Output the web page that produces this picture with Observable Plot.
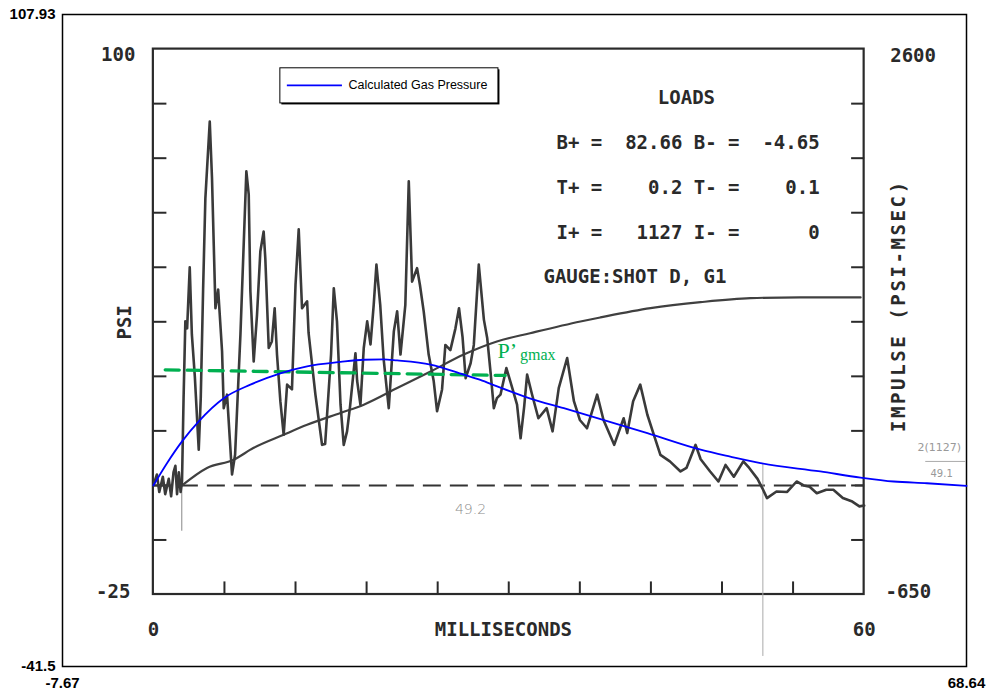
<!DOCTYPE html>
<html>
<head>
<meta charset="utf-8">
<script src="https://cdn.jsdelivr.net/npm/d3@7"></script>
<script src="https://cdn.jsdelivr.net/npm/@observablehq/plot@0.6"></script>
<style>
  html, body { margin: 0; padding: 0; background: #fff; }
  #chart { width: 987px; height: 698px; }
</style>
</head>
<body>
<div id="chart"></div>
<script>
// ---------- outer frame (overlay coordinates) ----------
const outerXTicks = [-7.67, 68.64];
const outerYTicks = [-41.5, 107.93];

// ---------- scanned gauge record: axes ----------
const msRange = [0, 60];
const psiRange = [-25, 100];
const impulseRange = [-650, 2600];
const msTicks = [6, 12, 18, 24, 30, 36, 42, 48, 54];
const psiTicks = [-12.5, 0, 12.5, 25, 37.5, 50, 62.5, 75, 87.5];

// ---------- measured pressure trace [ms, psi] ----------
const pressureTrace = [
  [0, 0], [0.3, 2.5], [0.5, -1.5], [0.8, 2], [1.0, -2], [1.3, 1.5], [1.5, -2.5], [1.7, 3],
  [1.86, 4.5], [2.0, -2], [2.15, 3], [2.3, -1.5], [2.42, 1],
  [2.55, 20], [2.7, 37.6], [2.85, 36], [3.07, 50], [3.25, 34.6], [3.5, 25], [3.83, 8.2],
  [4.0, 20], [4.2, 45], [4.39, 65.8], [4.76, 83.4], [4.95, 70.4], [5.1, 55], [5.24, 40.6],
  [5.47, 44.9], [5.8, 30.7], [5.94, 17.7], [6.22, 20.8], [6.64, 2.5], [6.9, 7.1], [7.35, 34.6],
  [7.85, 72], [8.05, 66.7], [8.19, 44.5], [8.47, 28.4], [8.75, 39.1], [9.03, 53.6], [9.31, 58.2],
  [9.45, 52], [9.74, 31.5], [10.0, 33], [10.24, 40.6], [10.44, 29.9], [10.72, 19.3], [11.0, 11.6],
  [11.29, 23.1], [11.7, 22], [12.0, 46], [12.27, 58.7], [12.55, 40.6], [12.98, 42.2], [13.1, 35],
  [13.68, 20.8], [14.24, 9.3], [14.5, 9.5], [15.0, 30], [15.23, 45.2], [15.5, 37.6], [15.8, 18.5],
  [16.07, 9.3], [16.35, 12.4], [16.6, 18], [17.06, 30.3], [17.2, 24], [17.48, 18.5], [17.76, 31.5],
  [18.05, 37.6], [18.33, 32.3], [18.6, 41.4], [18.83, 50.6], [19.15, 41.4], [19.43, 29.2],
  [19.87, 17.7], [20.3, 35.3], [20.58, 39.9], [20.86, 30], [21.27, 41.4], [21.56, 69.7],
  [21.84, 46.7], [22.26, 49.8], [22.5, 46], [22.82, 39.9], [23.24, 30], [23.66, 24], [23.95, 17],
  [24.37, 22], [24.65, 32.2], [25.07, 31], [25.5, 36], [25.8, 40.6], [26.1, 34], [26.36, 24.6],
  [26.78, 28], [27.05, 32.2], [27.47, 50.6], [27.9, 38], [28.18, 33.8], [28.46, 26], [28.74, 17.7],
  [29.0, 20], [29.3, 20.8], [29.8, 26.9], [30.3, 22.3], [30.7, 18.5], [31.0, 10.8], [31.3, 18],
  [31.55, 25.4], [31.95, 21], [32.5, 15.4], [33.2, 17.7], [33.7, 12.4], [34.22, 22.3], [34.93, 29.2],
  [35.5, 19.3], [36.0, 15], [36.6, 13.1], [37.46, 20.8], [38.0, 15], [38.9, 9.3], [39.7, 15.4],
  [40.0, 12], [40.5, 19.3], [41.1, 23.1], [41.7, 16.2], [42.25, 11.6], [42.8, 7], [43.6, 5.5],
  [44.5, 3.2], [45.0, 4], [45.77, 9.3], [46.2, 6], [47.0, 3.2], [47.7, 0.9], [48.3, 4.7], [49.0, 2],
  [49.8, 5.5], [50.3, 4], [51.0, 1.5], [51.4, -0.6], [51.8, -2.9], [52.6, -1.4], [53.5, -1.5],
  [54.3, 0.9], [54.9, 0], [55.4, -0.3], [56.0, -1.8], [56.8, -1], [57.4, -1], [58.2, -2.9],
  [59.0, -3.7], [59.6, -4.8], [60, -4.6]
];

// ---------- cumulative impulse [ms, psi-msec] ----------
const impulseCurve = [
  [2.42, 0], [4.53, 104], [6.78, 153], [8.47, 224], [11.0, 302], [12.98, 361], [15.8, 432],
  [17.76, 481], [20.58, 580], [23.4, 679], [26.2, 780], [29.0, 858], [31.8, 907], [36.05, 977],
  [37.74, 1001], [41.97, 1056], [46.19, 1092], [50.4, 1116], [54.6, 1121], [59.7, 1120]
];

// ---------- calculated gas pressure [ms, psi] ----------
const gasPressure = [
  [0, 0], [1.15, 5.1], [2.42, 10.1], [3.83, 14.7], [5.94, 20], [8.19, 23.1], [10.72, 25.7],
  [12.98, 27.3], [15.8, 28.3], [17.76, 28.8], [19.4, 28.9], [20.58, 28.65], [23.4, 27.7],
  [26.2, 25.4], [27.6, 24.2], [29.02, 22.7], [31.83, 19.9], [34.65, 17.7], [41.7, 12],
  [46.2, 8.2], [48.7, 6.6], [51.25, 5.1], [56.3, 3.2], [59.7, 1.8], [62.5, 0.9], [65.3, 0.5],
  [68.64, -0.1]
];

// ---------- P'gmax dashed level ----------
const pgmaxLine = [[1.0, 26.5], [29.7, 25.2]];

// ---------- text ----------
const loadsTitle = "LOADS";
const loadsLines = [
  "B+ =  82.66 B- =  -4.65",
  "T+ =    0.2 T- =    0.1",
  "I+ =   1127 I- =      0"
];
const gaugeLine = "GAUGE:SHOT D, G1";
const legendLabel = "Calculated Gas Pressure";
const impulseLabel = "IMPULSE (PSI-MSEC)";

const impulsePerPsi = (impulseRange[1] - impulseRange[0]) / (psiRange[1] - psiRange[0]);
const nb = s => s.replace(/ /g, "\u00a0");
const mono = "'DejaVu Sans Mono', monospace";
const ink = "#2a2a2a";

const chart = Plot.plot({
  width: 987,
  height: 698,
  marginLeft: 62,
  marginRight: 21,
  marginTop: 14,
  marginBottom: 32,
  x: {domain: outerXTicks},
  y: {domain: outerYTicks},
  style: {background: "white", fontFamily: "'Liberation Sans', Arial, sans-serif"},
  marks: [
    Plot.axisX({ticks: outerXTicks, tickFormat: d => String(d), tickSize: 0, tickPadding: 11,
      fontSize: 15, fontWeight: "bold", label: null}),
    Plot.axisY({ticks: outerYTicks, tickFormat: d => String(d), tickSize: 0, tickPadding: 7,
      fontSize: 15, fontWeight: "bold", label: null}),
    Plot.frame({stroke: "black", strokeWidth: 1.5}),

    // inner scanned box
    Plot.rect([0], {x1: msRange[0], x2: msRange[1], y1: psiRange[0], y2: psiRange[1],
      fill: "none", stroke: ink, strokeWidth: 2.2}),
    Plot.link(psiTicks, {x1: msRange[0], x2: msRange[0] + 1.1, y1: d => d, y2: d => d, stroke: ink, strokeWidth: 2}),
    Plot.link(psiTicks, {x1: msRange[1] - 1.1, x2: msRange[1], y1: d => d, y2: d => d, stroke: ink, strokeWidth: 2}),
    Plot.link(msTicks, {x1: d => d, x2: d => d, y1: psiRange[0], y2: psiRange[0] + 3, stroke: ink, strokeWidth: 2}),

    // zero baseline (dashed)
    Plot.ruleY([0], {x1: msRange[0], x2: msRange[1], stroke: "#333", strokeWidth: 2, strokeDasharray: "18,9"}),

    // thin vertical marker lines
    Plot.ruleX([2.4], {y1: 2, y2: -10.5, stroke: "#888", strokeWidth: 1}),
    Plot.ruleX([51.45], {y1: 5, y2: -39.2, stroke: "#aaa", strokeWidth: 1}),

    // impulse curve
    Plot.line(impulseCurve, {x: d => d[0], y: d => d[1] / impulsePerPsi, stroke: "#404040", strokeWidth: 2.2, curve: "monotone-x"}),

    // measured pressure trace
    Plot.line(pressureTrace, {x: d => d[0], y: d => d[1], stroke: "#3a3a3a", strokeWidth: 2.6, strokeLinejoin: "round"}),

    // P'gmax
    Plot.line(pgmaxLine, {x: d => d[0], y: d => d[1], stroke: "#00b050", strokeWidth: 3.3, strokeDasharray: "14,8"}),
    Plot.text(["P\u2019"], {x: 29.05, y: 29.2, textAnchor: "start", lineAnchor: "bottom", fill: "#00b050",
      fontSize: 22, fontFamily: "'Liberation Serif', 'Times New Roman', serif"}),
    Plot.text(["gmax"], {x: 30.95, y: 28.8, textAnchor: "start", lineAnchor: "bottom", fill: "#00b050",
      fontSize: 16, fontFamily: "'Liberation Serif', 'Times New Roman', serif"}),

    // calculated gas pressure
    Plot.line(gasPressure, {x: d => d[0], y: d => d[1], stroke: "#0000ff", strokeWidth: 1.8, curve: "monotone-x"}),

    // axis texts of the scanned record
    Plot.text([String(psiRange[1])], {x: -1.52, y: 98.6, textAnchor: "end", fontSize: 19, fontWeight: "bold", fontFamily: mono, fill: ink}),
    Plot.text([nb(String(psiRange[0]))], {x: -1.94, y: -24.3, textAnchor: "end", fontSize: 19, fontWeight: "bold", fontFamily: mono, fill: ink}),
    Plot.text([String(impulseRange[1])], {x: 62.2, y: 98.4, textAnchor: "start", fontSize: 19, fontWeight: "bold", fontFamily: mono, fill: ink}),
    Plot.text([String(impulseRange[0])], {x: 61.8, y: -24.3, textAnchor: "start", fontSize: 19, fontWeight: "bold", fontFamily: mono, fill: ink}),
    Plot.text(msRange.map(String), {x: (d, i) => msRange[i], y: -33, fontSize: 19, fontWeight: "bold", fontFamily: mono, fill: ink}),
    Plot.text(["MILLISECONDS"], {x: 29.55, y: -33, fontSize: 19, fontWeight: "bold", fontFamily: mono, fill: ink}),
    Plot.text(["PSI"], {x: -2.36, y: 37.4, rotate: -90, fontSize: 19, fontWeight: "bold", fontFamily: mono, fill: ink}),
    Plot.text([impulseLabel], {x: 62.9, y: 41.2, rotate: -90, fontSize: 19, fontWeight: "bold", fontFamily: mono, fill: ink}),

    // loads block
    Plot.text([loadsTitle], {x: 45.0, y: 88.9, fontSize: 19, fontWeight: "bold", fontFamily: mono, fill: ink}),
    Plot.text(loadsLines.map(nb), {x: 34.03, y: (d, i) => [78.6, 68.1, 57.8][i], textAnchor: "start", fontSize: 19, fontWeight: "bold", fontFamily: mono, fill: ink}),
    Plot.text([nb(gaugeLine)], {x: 32.93, y: 47.9, textAnchor: "start", fontSize: 19, fontWeight: "bold", fontFamily: mono, fill: ink}),

    // handwritten notes
    Plot.text(["49.2"], {x: 26.77, y: -5.5, fontSize: 14, fill: "#8a8a8a", fontFamily: "'DejaVu Sans', sans-serif", fontWeight: 300}),
    Plot.text(["2(1127)"], {x: 64.5, y: 8.7, textAnchor: "start", fontSize: 11, fill: "#999", fontFamily: "'DejaVu Sans', sans-serif"}),
    Plot.ruleY([5.5], {x1: 65.2, x2: 68.6, stroke: "#aaa", strokeWidth: 1}),
    Plot.text(["49.1"], {x: 65.6, y: 2.75, textAnchor: "start", fontSize: 10, fill: "#999", fontFamily: "'DejaVu Sans', sans-serif"}),

    // legend
    Plot.rect([0], {x1: 10.72, x2: 29.13, y1: 87.55, y2: 95.6, fill: "black", dx: 1.5, dy: 1.5}),
    Plot.rect([0], {x1: 10.72, x2: 29.13, y1: 87.55, y2: 95.6, fill: "white", stroke: "black", strokeWidth: 1}),
    Plot.ruleY([91.7], {x1: 11.31, x2: 15.96, stroke: "#0000ff", strokeWidth: 1.8}),
    Plot.text([legendLabel], {x: 16.47, y: 91.7, textAnchor: "start", fontSize: 12.5, fill: "black"})
  ]
});

document.getElementById("chart").appendChild(chart);
// the vertical impulse label is letter-spaced in the original
d3.select(chart).selectAll("text")
  .filter(function () { return this.textContent === impulseLabel; })
  .style("letter-spacing", "2.6px");
</script>
</body>
</html>
